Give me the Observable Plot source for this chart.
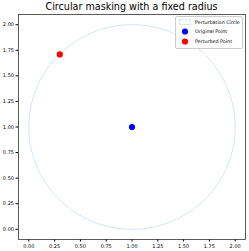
<!DOCTYPE html>
<html><head><meta charset="utf-8">
<script src="https://cdn.jsdelivr.net/npm/d3@7"></script>
<script src="https://cdn.jsdelivr.net/npm/@observablehq/plot@0.6"></script>
<style>
body{margin:0;background:#fff;font-family:"DejaVu Sans",sans-serif;}
#wrap{position:relative;width:249px;height:251px;}
#title{position:absolute;left:18px;width:227px;top:0;text-align:center;font-size:9.6px;line-height:13px;color:#000;}
#legend{position:absolute;left:175px;top:16px;width:66px;height:31px;border:1px solid #ccc;border-radius:2px;background:rgba(255,255,255,0.85);font-size:4.8px;color:#000;}
.row{position:absolute;left:3px;height:8px;display:flex;align-items:center;}
.row span{margin-left:4px;}
</style>
</head><body>
<div id="wrap"><div id="title">Circular masking with a fixed radius</div><div id="legend"></div></div>
<script>
const seriesNames = ["Perturbation Circle", "Original Point", "Perturbed Point"];
const seriesColors = ["#b4d2e6", "blue", "red"];
const originalPoint = [{x: 1.0, y: 1.0}];
const perturbedPoint = [{x: 0.30, y: 1.71}];
const circleRadius = [1.0];
const tickValues = [0, 0.25, 0.5, 0.75, 1.0, 1.25, 1.5, 1.75, 2.0];

const c = originalPoint[0];
const R = circleRadius[0];
const circlePath = d3.range(0, 361, 2).map(a => ({
  x: c.x + R * Math.cos(a * Math.PI / 180),
  y: c.y + R * Math.sin(a * Math.PI / 180)
}));

const chart = Plot.plot({
  width: 249, height: 251,
  marginLeft: 18, marginRight: 4, marginTop: 14, marginBottom: 12,
  style: {fontSize: "5px", fontFamily: "DejaVu Sans, sans-serif", color: "#000", background: "#fff"},
  x: {domain: [-0.1, 2.1], ticks: tickValues, tickFormat: d3.format(".2f"), label: null, tickSize: 2.5, tickPadding: 2},
  y: {domain: [-0.1, 2.1], ticks: tickValues, tickFormat: d3.format(".2f"), label: null, tickSize: 2.5, tickPadding: 2},
  marks: [
    Plot.line(circlePath, {x: "x", y: "y", stroke: seriesColors[0], strokeWidth: 0.65, strokeDasharray: "2,1.2"}),
    Plot.dot(originalPoint, {x: "x", y: "y", r: 3.1, fill: seriesColors[1]}),
    Plot.dot(perturbedPoint, {x: "x", y: "y", r: 3.1, fill: seriesColors[2]}),
    Plot.frame({stroke: "#333", strokeWidth: 0.8})
  ]
});
document.getElementById("wrap").appendChild(chart);
chart.style.display = "block";

const lg = document.getElementById("legend");
seriesNames.forEach((name, i) => {
  const row = document.createElement("div");
  row.className = "row";
  row.style.top = (1 + i * 9.5) + "px";
  const sw = i === 0
    ? `<svg width="12" height="6"><rect x="0.5" y="0.5" width="11" height="5" fill="none" stroke="${seriesColors[0]}" stroke-width="0.7" stroke-dasharray="2,1"/></svg>`
    : `<svg width="12" height="7"><circle cx="6" cy="3.5" r="3.1" fill="${seriesColors[i]}"/></svg>`;
  row.innerHTML = sw + `<span>${name}</span>`;
  lg.appendChild(row);
});
</script>
</body></html>
